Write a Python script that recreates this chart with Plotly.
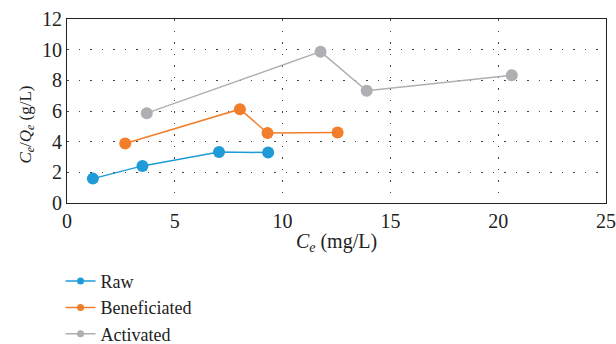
import plotly.graph_objects as go

# Equilibrium concentration (mg/L) and Ce/Qe (g/L) for each adsorbent
raw_ce = [1.2, 3.5, 7.05, 9.33]
raw_ratio = [1.59, 2.42, 3.33, 3.29]

ben_ce = [2.7, 8.02, 9.3, 12.55]
ben_ratio = [3.88, 6.12, 4.56, 4.6]

act_ce = [3.7, 11.76, 13.9, 20.63]
act_ratio = [5.86, 9.87, 7.32, 8.33]

series = [
    ("Raw", raw_ce, raw_ratio, "#1f9bd7"),
    ("Beneficiated", ben_ce, ben_ratio, "#f27e2c"),
    ("Activated", act_ce, act_ratio, "#aeafb2"),
]

FONT = "Liberation Serif"

fig = go.Figure()
for name, xs, ys, color in series:
    fig.add_trace(go.Scatter(
        x=xs, y=ys, name=name, mode="lines+markers", showlegend=False,
        line=dict(color=color, width=1.5),
        marker=dict(color=color, size=12),
    ))
# legend entries with small markers
for name, xs, ys, color in series:
    fig.add_trace(go.Scatter(
        x=[None], y=[None], name=name, mode="lines+markers",
        line=dict(color=color, width=1.5),
        marker=dict(color=color, size=7),
    ))

axis_common = dict(
    showline=True, linecolor="#222", linewidth=1.2, mirror=True,
    showgrid=True, gridcolor="#444", griddash="1.5px,10px", gridwidth=1.2,
    zeroline=False, ticks="",
    tickfont=dict(family=FONT, size=20, color="#222"),
)

fig.update_layout(
    width=616, height=344,
    margin=dict(l=67, r=10, t=19, b=141, autoexpand=False),
    paper_bgcolor="white", plot_bgcolor="white",
    font=dict(family=FONT, color="#222"),
    xaxis=dict(range=[0, 25], dtick=5,
               title=dict(text="<i>C<sub>e</sub></i> (mg/L)",
                          font=dict(family=FONT, size=20), standoff=2),
               **axis_common),
    yaxis=dict(range=[0, 12], dtick=2, **axis_common),
    legend=dict(
        orientation="v", x=-0.012, xanchor="left", y=-0.325, yanchor="top",
        font=dict(family=FONT, size=18, color="#222"),
        itemsizing="trace", tracegroupgap=0,
    ),
    showlegend=True,
    annotations=[dict(
        text="<i>C<sub>e</sub></i>/<i>Q<sub>e</sub></i> (g/L)",
        xref="paper", yref="paper", x=-0.075, y=0.5, yshift=-14,
        xanchor="center", yanchor="middle", textangle=-90,
        showarrow=False, font=dict(family=FONT, size=17, color="#222"),
    )],
)

fig.write_html("out.html")
